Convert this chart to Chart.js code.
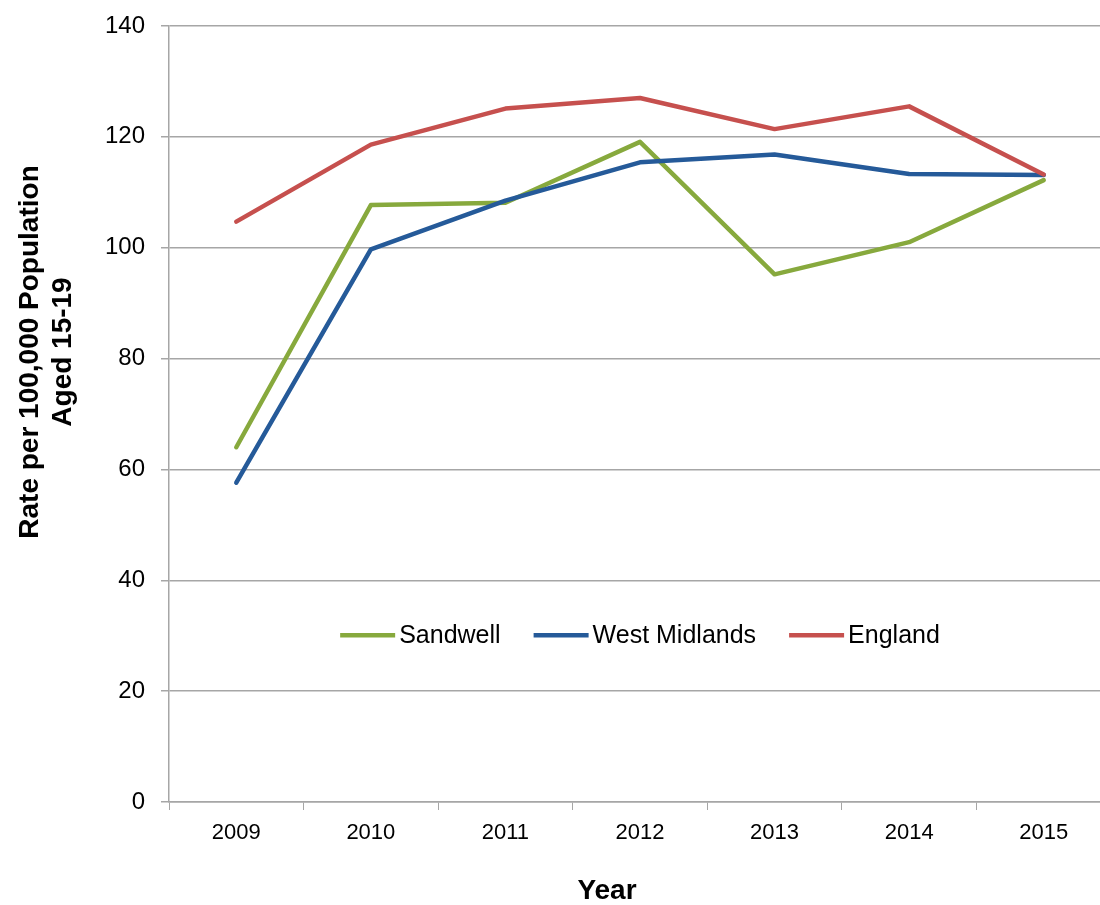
<!DOCTYPE html>
<html>
<head>
<meta charset="utf-8">
<script src="https://cdn.jsdelivr.net/npm/chart.js@4.4.1/dist/chart.umd.min.js"></script>
<style>
    body { margin: 0; background: #fff; overflow: hidden; }
    #wrap { width: 1100px; height: 905px; overflow: hidden; }
</style>
</head>
<body>
<div id="wrap"><canvas id="chart" width="1115" height="905"></canvas></div>
<script>
const years = ['2009', '2010', '2011', '2012', '2013', '2014', '2015'];
const sandwell = [64.0, 107.7, 108.1, 119.1, 95.2, 101.0, 112.2];
const westMidlands = [57.6, 99.7, 108.5, 115.4, 116.8, 113.3, 113.1];
const england = [104.7, 118.6, 125.1, 127.0, 121.4, 125.5, 113.2];
const yTicks = [0, 20, 40, 60, 80, 100, 120, 140];

const yTitle = ['Rate per 100,000 Population', 'Aged 15-19'];
const xTitle = 'Year';

const gridColor = '#a6a6a6';
const font = '"Liberation Sans", Arial, sans-serif';

// legend drawn inside the plot, like the excel one
const innerLegend = {
    id: 'innerLegend',
    afterDraw(chart) {
        let c = chart.ctx;
        let area = chart.chartArea;
        c.save();
        c.font = '25px ' + font;
        c.textBaseline = 'middle';
        let lineLen = 55, gapText = 4, gapItem = 33;
        let items = chart.data.datasets;
        let total = 0;
        items.forEach((d, i) => {
            total += lineLen + gapText + c.measureText(d.label).width;
            if (i < items.length - 1) total += gapItem;
        });
        let x = (area.left + area.right) / 2 - total / 2;
        let y = area.top + (area.bottom - area.top) * 0.785;
        items.forEach(d => {
            c.strokeStyle = d.borderColor;
            c.lineWidth = 4.5;
            c.beginPath();
            c.moveTo(x, y);
            c.lineTo(x + lineLen, y);
            c.stroke();
            x += lineLen + gapText;
            c.fillStyle = '#000';
            c.fillText(d.label, x, y + 1);
            x += c.measureText(d.label).width + gapItem;
        });
        c.restore();
    }
};

// axis titles sit where excel put them, not centred on the plot
const axisTitles = {
    id: 'axisTitles',
    afterDraw(chart) {
        let c = chart.ctx;
        c.save();
        c.fillStyle = '#000';
        c.font = 'bold 28px ' + font;
        c.textAlign = 'center';
        c.textBaseline = 'middle';
        c.translate(46, 352);
        c.rotate(-Math.PI / 2);
        c.fillText(yTitle[0], 0, -16);
        c.fillText(yTitle[1], 0, 17);
        c.restore();

        c.save();
        c.fillStyle = '#000';
        c.font = 'bold 28px ' + font;
        c.textAlign = 'center';
        c.textBaseline = 'middle';
        c.fillText(xTitle, 607, 891);
        c.restore();
    }
};

function makeSet(label, data, color, order) {
    return {
        label: label,
        data: data,
        borderColor: color,
        backgroundColor: color,
        borderWidth: 4.5,
        tension: 0,
        pointRadius: 0,
        borderCapStyle: 'round',
        borderJoinStyle: 'round',
        order: order
    };
}

const ctx = document.getElementById('chart').getContext('2d');
const myChart = new Chart(ctx, {
    type: 'line',
    data: {
        labels: years,
        datasets: [
            makeSet('Sandwell', sandwell, '#87a93d', 2),
            makeSet('West Midlands', westMidlands, '#255a99', 1),
            makeSet('England', england, '#c6504e', 0)
        ]
    },
    options: {
        responsive: false,
        animation: false,
        layout: { padding: { top: 26, right: 4, left: 0, bottom: 0 } },
        plugins: {
            legend: { display: false },
            tooltip: { enabled: false }
        },
        scales: {
            x: {
                offset: true,
                grid: {
                    offset: true,
                    drawOnChartArea: false,
                    drawTicks: true,
                    tickLength: 8,
                    color: gridColor
                },
                border: { display: true, color: gridColor, width: 1.5 },
                ticks: {
                    color: '#000',
                    font: { family: font, size: 22 },
                    padding: 10,
                    maxRotation: 0
                },
                afterFit(scale) { scale.height = 103; }
            },
            y: {
                min: 0,
                max: 140,
                afterBuildTicks(scale) {
                    scale.ticks = yTicks.map(v => ({ value: v }));
                },
                grid: {
                    color: gridColor,
                    lineWidth: 1.5,
                    tickLength: 8
                },
                border: { display: true, color: gridColor, width: 1.5 },
                ticks: {
                    color: '#000',
                    font: { family: font, size: 24 },
                    padding: 16
                },
                afterFit(scale) {
                    scale.width = 169;
                    scale.paddingTop = 0;
                    scale.paddingBottom = 0;
                }
            }
        }
    },
    plugins: [innerLegend, axisTitles]
});
</script>
</body>
</html>
